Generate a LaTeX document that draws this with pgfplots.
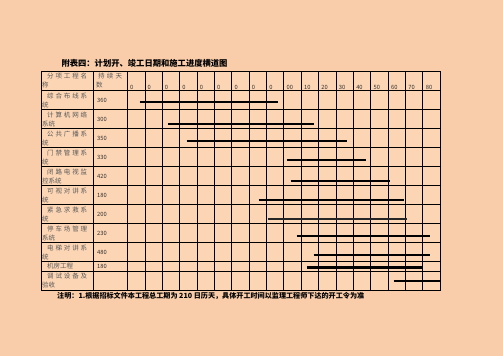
\documentclass[border=0pt]{standalone}
\usepackage{pgfplots}
\pgfplotsset{compat=1.18}
\usepackage{fontspec}
\setmainfont{Noto Sans CJK SC}
\definecolor{peachbg}{rgb}{0.988,0.835,0.706}
\definecolor{cellgray}{HTML}{5A5A5A}
\definecolor{numgray}{HTML}{303030}
\newcommand{\nmf}{\fontsize{6.5}{7}\selectfont\color{cellgray}}
\newcommand{\numf}{\fontsize{5.8}{7}\selectfont\color{numgray}}
\newcommand{\spr}[2]{\makebox[#1pt][s]{#2}}
\begin{document}
\begin{tikzpicture}
\fill[fill={rgb,255:red,250;green,205;blue,170}] (0pt,0pt) rectangle (503pt,356pt);
\begin{axis}[at={(41pt,66pt)}, anchor=south west, scale only axis,
  width=399pt, height=218.5pt,
  xmin=-5, xmax=18, ymin=0, ymax=11.5, y dir=reverse,
  axis background/.style={fill=peachbg},
  axis line style={black, line width=0.8pt},
  xtick={-2,0,1,2,3,4,5,6,7,8,9,10,11,12,13,14,15,16,17},
  ytick={1,2,3,4,5,6,7,8,9,10,10.5},
  xticklabels={}, yticklabels={},
  grid=major, grid style={black, line width=0.8pt},
  major tick length=0pt, clip=false]
\addplot[black, line width=2pt] coordinates {(0.69,1.60) (8.65,1.60)};
\addplot[black, line width=2pt] coordinates {(2.31,2.74) (10.72,2.74)};
\addplot[black, line width=2pt] coordinates {(3.40,3.68) (12.62,3.68)};
\addplot[black, line width=2pt] coordinates {(9.16,4.68) (13.72,4.68)};
\addplot[black, line width=2pt] coordinates {(9.39,5.74) (15.10,5.74)};
\addplot[black, line width=2pt] coordinates {(7.55,6.74) (15.91,6.74)};
\addplot[black!85, line width=2pt] coordinates {(8.07,7.74) (16.08,7.74)};
\addplot[black, line width=2pt] coordinates {(9.74,8.68) (17.41,8.68)};
\addplot[black, line width=2pt] coordinates {(10.72,9.68) (17.41,9.68)};
\addplot[black, line width=2.6pt] coordinates {(10.32,10.32) (16.95,10.32)};
\addplot[black, line width=2pt] coordinates {(15.33,11.0) (17.98,11.0)};
\end{axis}
% title
\node[anchor=west, font=\bfseries\fontsize{8.3}{10}\selectfont] at (58pt,293pt) {附表四：计划开、竣工日期和施工进度横道图};
% header
\node[anchor=west, inner sep=0pt, font=\nmf] at (47pt,280pt) {\spr{40}{分\hfill 项\hfill 工\hfill 程\hfill 名}};
\node[anchor=west, inner sep=0pt, font=\nmf] at (42pt,271pt) {称};
\node[anchor=west, inner sep=0pt, font=\nmf] at (98pt,280pt) {\spr{24}{持\hfill 续\hfill 天}};
\node[anchor=west, inner sep=0pt, font=\nmf] at (96pt,271pt) {数};
\foreach \k/\t in {0/0,1/0,2/0,3/0,4/0,5/0,6/0,7/0,8/0,9/00,10/10,11/20,12/30,13/40,14/50,15/60,16/70,17/80}{
  \pgfmathsetmacro\xx{130+17.39*\k}
  \node[anchor=west, inner sep=0pt, font=\numf] at (\xx pt,269pt) {\t};
}
% name rows: top px values
\foreach \tp/\a/\b/\d in {
  91/综\hfill 合\hfill 布\hfill 线\hfill 系/统/360,
  110/计\hfill 算\hfill 机\hfill 网\hfill 络/系统/300,
  129/公\hfill 共\hfill 广\hfill 播\hfill 系/统/350,
  148/门\hfill 禁\hfill 管\hfill 理\hfill 系/统/330,
  167/闭\hfill 路\hfill 电\hfill 视\hfill 监/控系统/420,
  186/可\hfill 视\hfill 对\hfill 讲\hfill 系/统/180,
  205/紧\hfill 急\hfill 求\hfill 救\hfill 系/统/200,
  224/停\hfill 车\hfill 场\hfill 管\hfill 理/系统/230,
  243/电\hfill 梯\hfill 对\hfill 讲\hfill 系/统/480}{
  \pgfmathsetmacro\ya{356-\tp-5}
  \pgfmathsetmacro\yb{356-\tp-14}
  \pgfmathsetmacro\yc{356-\tp-9.5}
  \node[anchor=west, inner sep=0pt, font=\nmf] at (47pt,\ya pt) {\spr{40}{\a}};
  \node[anchor=west, inner sep=0pt, font=\nmf] at (42pt,\yb pt) {\b};
  \node[anchor=west, inner sep=0pt, font=\numf] at (97pt,\yc pt) {\d};
}
\node[anchor=west, inner sep=0pt, font=\nmf] at (47pt,89.5pt) {机房工程};
\node[anchor=west, inner sep=0pt, font=\numf] at (97pt,89.5pt) {180};
\node[anchor=west, inner sep=0pt, font=\nmf] at (47pt,80pt) {\spr{40}{调\hfill 试\hfill 设\hfill 备\hfill 及}};
\node[anchor=west, inner sep=0pt, font=\nmf] at (42pt,71pt) {验收};
% note
\node[anchor=west, inner sep=0pt, font=\bfseries\fontsize{7.1}{9}\selectfont] at (57pt,60pt) {注明：1.根据招标文件本工程总工期为 210 日历天，具体开工时间以监理工程师下达的开工令为准};
\end{tikzpicture}
\end{document}
